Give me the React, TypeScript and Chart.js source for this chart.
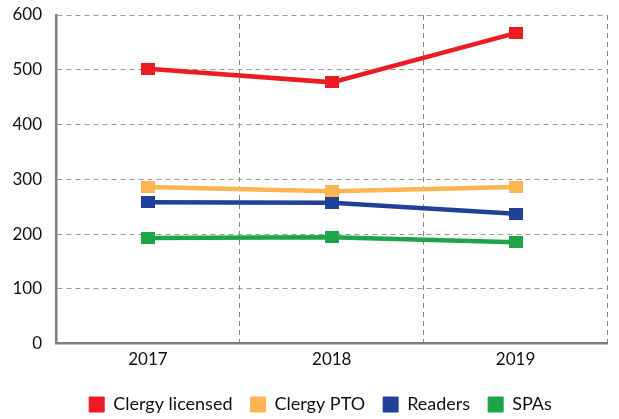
import React, { useEffect, useRef } from "react";
import { Chart, registerables } from "chart.js";

Chart.register(...registerables);

const categories = ["2017", "2018", "2019"];
const clergyLicensed = [502, 477, 567];
const clergyPTO = [286, 278, 286];
const readers = [258, 257, 237];
const spas = [193, 194, 185];
const yTicks = [0, 100, 200, 300, 400, 500, 600];

const seriesNames = ["Clergy licensed", "Clergy PTO", "Readers", "SPAs"];
const seriesColors = ["#ED1C24", "#FDB553", "#21409A", "#1DA54A"];

const FONT = "Lato, 'Open Sans', sans-serif";

function rectMarker(color: string) {
  const c = document.createElement("canvas");
  c.width = 14;
  c.height = 12;
  const ctx = c.getContext("2d")!;
  ctx.fillStyle = color;
  ctx.fillRect(0, 0, 14, 12);
  return c;
}

const shiftLegend = {
  id: "shiftLegend",
  afterLayout(chart: any) {
    const l = chart.legend;
    if (l) {
      l.left += 16.5;
      l.right += 16.5;
    }
  },
};

export default function App() {
  const ref = useRef<HTMLCanvasElement>(null);
  useEffect(() => {
    if (!ref.current) return;
    const series = [clergyLicensed, clergyPTO, readers, spas];
    const chart = new Chart(ref.current, {
      type: "line",
      data: {
        labels: categories,
        datasets: series.map((d, i) => ({
          label: seriesNames[i],
          data: d,
          borderColor: seriesColors[i],
          backgroundColor: seriesColors[i],
          borderWidth: 4.5,
          pointStyle: rectMarker(seriesColors[i]) as any,
          pointRadius: 7,
          tension: 0,
        })),
      },
      plugins: [shiftLegend],
      options: {
        animation: false,
        responsive: false,
        maintainAspectRatio: false,
        layout: { padding: { left: 0, right: 11, top: 15, bottom: -4.5 } },
        plugins: {
          tooltip: { enabled: false },
          legend: {
            position: "bottom",
            labels: {
              boxWidth: 15,
              boxHeight: 15,
              padding: 18,
              color: "#111",
              font: { family: FONT, size: 18 },
              generateLabels: (ch: any) =>
                ch.data.datasets.map((ds: any, i: number) => ({
                  text: ds.label,
                  fillStyle: seriesColors[i],
                  strokeStyle: seriesColors[i],
                  lineWidth: 1,
                  hidden: false,
                  datasetIndex: i,
                  fontColor: "#111",
                })),
            },
          },
        },
        scales: {
          x: {
            offset: true,
            afterFit: (s: any) => {
              s.height = s.height + 1.5;
            },
            grid: {
              offset: true,
              color: "#8a8a8a",
              lineWidth: 1,
              drawTicks: false,
            } as any,
            border: { display: true, color: "#7f7f7f", width: 2.5, dash: [5, 4] } as any,
            ticks: { color: "#111", font: { family: FONT, size: 17 }, padding: 6 },
          },
          y: {
            min: 0,
            max: 600,
            afterFit: (s: any) => {
              s.width = 56;
              s.paddingTop = 0;
              s.paddingBottom = 0;
            },
            afterBuildTicks: (s: any) => {
              s.ticks = yTicks.map((v) => ({ value: v }));
            },
            grid: { color: "#9a9a9a", lineWidth: 1, drawTicks: false },
            border: { display: true, color: "#7f7f7f", width: 2.5, dash: [5, 4] } as any,
            ticks: { color: "#111", font: { family: FONT, size: 17 }, padding: 14 },
          },
        },
      },
    });
    return () => chart.destroy();
  }, []);
  return (
    <div style={{ position: "fixed", left: 0, top: 0, width: 619, height: 419, background: "#fff" }}>
      <canvas ref={ref} width={619} height={419} style={{ width: 619, height: 419 }} />
    </div>
  );
}
